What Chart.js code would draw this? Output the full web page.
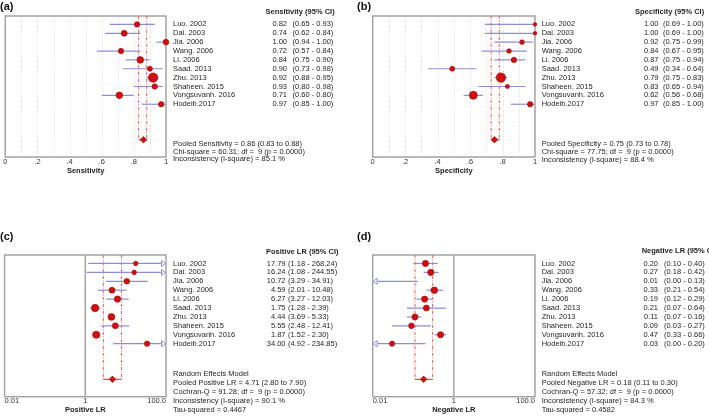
<!DOCTYPE html>
<html><head><meta charset="utf-8">
<script src="https://cdn.jsdelivr.net/npm/chart.js@4.4.1/dist/chart.umd.min.js"></script>
<style>
html,body{margin:0;padding:0;background:#fff;width:709px;height:416px;overflow:hidden;}
canvas{position:absolute;}
</style></head><body>
<canvas id="ca" style="left:0px;top:0px" width="354" height="200"></canvas>
<canvas id="cb" style="left:354px;top:0px" width="355" height="200"></canvas>
<canvas id="cc" style="left:0px;top:200px" width="354" height="216"></canvas>
<canvas id="cd" style="left:354px;top:200px" width="355" height="216"></canvas>
<script>
// ---------------- data ----------------
const studies = ['Luo. 2002','Dai. 2003','Jia. 2006','Wang. 2006','Li. 2006','Saad. 2013','Zhu. 2013','Shaheen. 2015','Vongsuvanh. 2016','Hodeib.2017'];

const sensEst = [0.82,0.74,1.00,0.72,0.84,0.90,0.92,0.93,0.71,0.97];
const sensLo  = [0.65,0.62,0.94,0.57,0.75,0.73,0.88,0.80,0.60,0.85];
const sensHi  = [0.93,0.84,1.00,0.84,0.90,0.98,0.95,0.98,0.80,1.00];
const sensPooled = [0.86,0.83,0.88];
const sensFooter = ['Pooled Sensitivity = 0.86 (0.83 to 0.88)','Chi-square = 60.31; df =  9 (p = 0.0000)','Inconsistency (I-square) = 85.1 %'];

const specEst = [1.00,1.00,0.92,0.84,0.87,0.49,0.79,0.83,0.62,0.97];
const specLo  = [0.69,0.69,0.75,0.67,0.75,0.34,0.75,0.65,0.56,0.85];
const specHi  = [1.00,1.00,0.99,0.95,0.94,0.64,0.83,0.94,0.68,1.00];
const specPooled = [0.75,0.73,0.78];
const specFooter = ['Pooled Specificity = 0.75 (0.73 to 0.78)','Chi-square = 77.75; df =  9 (p = 0.0000)','Inconsistency (I-square) = 88.4 %'];

const plrEst = [17.79,16.24,10.72,4.59,6.27,1.75,4.44,5.55,1.87,34.00];
const plrLo  = [1.18,1.08,3.29,2.01,3.27,1.28,3.69,2.48,1.52,4.92];
const plrHi  = [268.24,244.55,34.91,10.48,12.03,2.39,5.33,12.41,2.30,234.85];
const plrPooled = [4.71,2.80,7.90];
const plrFooter = ['Random Effects Model','Pooled Positive LR = 4.71 (2.80 to 7.90)','Cochran-Q = 91.28; df =  9 (p = 0.0000)','Inconsistency (I-square) = 90.1 %','Tau-squared = 0.4467'];

const nlrEst = [0.20,0.27,0.01,0.33,0.19,0.21,0.11,0.09,0.47,0.03];
const nlrLo  = [0.10,0.18,0.00,0.21,0.12,0.07,0.07,0.03,0.33,0.00];
const nlrHi  = [0.40,0.42,0.13,0.54,0.29,0.64,0.16,0.27,0.66,0.20];
const nlrPooled = [0.18,0.11,0.30];
const nlrFooter = ['Random Effects Model','Pooled Negative LR = 0.18 (0.11 to 0.30)','Cochran-Q = 57.32; df =  9 (p = 0.0000)','Inconsistency (I-square) = 84.3 %','Tau-squared = 0.4582'];

// marker sizes (study weights)
const sensR = [2.7,3.0,2.8,2.7,3.3,2.5,4.7,2.7,3.3,2.7];
const specR = [1.8,1.8,2.3,2.3,2.7,2.5,4.7,2.1,4.0,2.7];
const plrR  = [2.3,2.3,2.8,3.0,3.2,3.7,3.4,3.0,3.6,2.7];
const nlrR  = [3.1,3.1,0,3.3,3.1,3.0,3.0,2.8,3.1,2.6];

// axes ticks
const propTickVals = [0,0.1,0.2,0.3,0.4,0.5,0.6,0.7,0.8,0.9,1];
const propTickLabels = ['0','','.2','','.4','','.6','','.8','','1'];
const lrTickVals = [0.01,1,100];
const lrTickLabels = ['0.01','1','100.0'];

const POOLED_ROW = 13;
const FONT = "'Liberation Sans', Arial, Helvetica, sans-serif";

const panels = [
 {id:'ca', left:0, top:0, w:354, h:200, area:[4,166,16,157], type:'linear', min:0, max:1,
  tickVals:propTickVals, tickLabels:propTickLabels, tickAlign:'center', tickPad:0.25,
  axisTitle:'Sensitivity', est:sensEst, lo:sensLo, hi:sensHi, r:sensR, pooled:sensPooled,
  header:'Sensitivity (95% CI)', footer:sensFooter, label:'(a)',
  pos:{name:173, valR:287, ci:292.5, head:265.5, headY:11.5, foot:173, footY:[144,151.5,159], labX:0, labY:7}},
 {id:'cb', left:354, top:0, w:355, h:200, area:[372.7,535,16,157], type:'linear', min:0, max:1,
  tickVals:propTickVals, tickLabels:propTickLabels, tickAlign:'center', tickPad:0.25,
  axisTitle:'Specificity', est:specEst, lo:specLo, hi:specHi, r:specR, pooled:specPooled,
  header:'Specificity (95% CI)', footer:specFooter, label:'(b)',
  pos:{name:541.7, valR:658.5, ci:663, head:635, headY:11.5, foot:541.7, footY:[144,152,160], labX:357, labY:7}},
 {id:'cc', left:0, top:200, w:354, h:216, area:[4,166,255,396.7], type:'logarithmic', min:0.01, max:100,
  tickVals:lrTickVals, tickLabels:lrTickLabels, tickAlign:'inner', tickPad:0,
  axisTitle:'Positive LR', est:plrEst, lo:plrLo, hi:plrHi, r:plrR, pooled:plrPooled,
  header:'Positive LR (95% CI)', footer:plrFooter, label:'(c)',
  pos:{name:173, valR:285.5, ci:288, head:266, headY:251.5, foot:173, footY:[374.3,383,392,401,410], labX:0, labY:236.7}},
 {id:'cd', left:354, top:200, w:355, h:216, area:[372.7,535,255,396.7], type:'logarithmic', min:0.01, max:100,
  tickVals:lrTickVals, tickLabels:lrTickLabels, tickAlign:'inner', tickPad:0,
  axisTitle:'Negative LR', est:nlrEst, lo:nlrLo, hi:nlrHi, r:nlrR, pooled:nlrPooled,
  header:'Negative LR (95% CI)', footer:nlrFooter, label:'(d)',
  pos:{name:541.7, valR:658, ci:664, head:641.7, headY:250.5, foot:541.7, footY:[374.3,383,392,401,410], labX:357, labY:236.7}}
];

function seg(ctx,x1,y1,x2,y2){ctx.beginPath();ctx.moveTo(x1,y1);ctx.lineTo(x2,y2);ctx.stroke();}

function forestPlugin(p){
  const L = p.left, T = p.top;
  return {
    id:'forest',
    beforeDatasetsDraw(chart){
      const {ctx, chartArea:a, scales:{x,y}} = chart;
      ctx.save();
      // grid
      if (p.type === 'linear') {
        ctx.strokeStyle = '#dcdcdc'; ctx.lineWidth = 1; ctx.setLineDash([1,1.5]);
        p.tickVals.forEach(v => { if (v > p.min && v < p.max) { const px = Math.round(x.getPixelForValue(v))+0.5; seg(ctx,px,a.top,px,a.bottom); } });
      } else {
        ctx.strokeStyle = '#a3a3a3'; ctx.lineWidth = 1.5; ctx.setLineDash([]);
        const px = x.getPixelForValue(1); seg(ctx,px,a.top,px,a.bottom);
      }
      ctx.setLineDash([]);
      ctx.strokeStyle = '#a3a3a3'; ctx.lineWidth = 1.5;
      ctx.strokeRect(a.left, a.top, a.right-a.left, a.bottom-a.top);
      // pooled CI dashed lines
      const yp = y.getPixelForValue(POOLED_ROW);
      ctx.strokeStyle = '#e0605e'; ctx.lineWidth = 1; ctx.setLineDash([3,1.5,1,1.5]);
      [p.pooled[1], p.pooled[2]].forEach(v => { const px = x.getPixelForValue(v); seg(ctx,px,a.top,px,yp); });
      ctx.setLineDash([]);
      ctx.strokeStyle = '#d83030'; ctx.lineWidth = 1;
      seg(ctx, x.getPixelForValue(p.pooled[1]), yp, x.getPixelForValue(p.pooled[2]), yp);
      // study CIs
      const AL = 4.5, AH = 3;
      ctx.strokeStyle = '#8e8ed2'; ctx.lineWidth = 1.2;
      p.est.forEach((e,i) => {
        const yy = y.getPixelForValue(i);
        const lowOut = p.lo[i] < p.min, highOut = p.hi[i] > p.max;
        const x1 = lowOut ? a.left + AL : x.getPixelForValue(p.lo[i]);
        const x2 = highOut ? a.right - AL : x.getPixelForValue(p.hi[i]);
        ctx.lineWidth = 1.2; seg(ctx,x1,yy,x2,yy);
        ctx.lineWidth = 1; ctx.fillStyle = '#fff';
        if (lowOut) { ctx.beginPath(); ctx.moveTo(a.left+0.5,yy); ctx.lineTo(a.left+AL,yy-AH); ctx.lineTo(a.left+AL,yy+AH); ctx.closePath(); ctx.fill(); ctx.stroke(); }
        if (highOut) { ctx.beginPath(); ctx.moveTo(a.right-0.5,yy); ctx.lineTo(a.right-AL,yy-AH); ctx.lineTo(a.right-AL,yy+AH); ctx.closePath(); ctx.fill(); ctx.stroke(); }
      });
      ctx.restore();
    },
    afterDraw(chart){
      const {ctx, scales:{y}} = chart;
      const q = p.pos;
      ctx.save();
      ctx.fillStyle = '#262626'; ctx.textBaseline = 'middle';
      ctx.font = '7.5px ' + FONT;
      studies.forEach((s,i) => {
        const yy = y.getPixelForValue(i);
        ctx.textAlign = 'left'; ctx.fillText(s, q.name - L, yy);
        ctx.textAlign = 'right'; ctx.fillText(p.est[i].toFixed(2), q.valR - L, yy);
        ctx.textAlign = 'left'; ctx.fillText('(' + p.lo[i].toFixed(2) + ' - ' + p.hi[i].toFixed(2) + ')', q.ci - L, yy);
      });
      p.footer.forEach((t,k) => { ctx.fillText(t, q.foot - L, q.footY[k] - T); });
      ctx.font = 'bold 7.5px ' + FONT;
      ctx.fillText(p.header, q.head - L, q.headY - T);
      ctx.font = 'bold 11px ' + FONT; ctx.fillStyle = '#111';
      ctx.fillText(p.label, q.labX - L, q.labY - T);
      ctx.restore();
    }
  };
}

panels.forEach(p => {
  const [al, ar, at, ab] = p.area;
  const left = al - p.left, right = p.w - (ar - p.left), top = at - p.top;
  const axisH = 9 + 9 + 2*p.tickPad;
  const bottom = p.h - (ab - p.top) - axisH;
  new Chart(document.getElementById(p.id), {
    type: 'scatter',
    data: { datasets: [
      { data: p.est.map((v,i) => ({x:v, y:i})), pointRadius: p.r, pointHoverRadius: p.r,
        backgroundColor:'#d10f0f', borderColor:'#9c0000', borderWidth:0.6, clip:false },
      { data: [{x:p.pooled[0], y:POOLED_ROW}], pointStyle:'rectRot', pointRadius:3.3,
        backgroundColor:'#d10f0f', borderColor:'#9c0000', borderWidth:0.6, clip:false }
    ]},
    options: {
      responsive:false, animation:false, devicePixelRatio:1, events:[],
      layout:{ padding:{ left, right, top, bottom } },
      plugins:{ legend:{display:false}, tooltip:{enabled:false} },
      scales:{
        x:{ type:p.type, min:p.min, max:p.max, position:'bottom',
            grid:{display:false, drawTicks:false}, border:{display:false},
            afterBuildTicks: s => { s.ticks = p.tickVals.map(v => ({value:v})); },
            ticks:{ autoSkip:false, maxRotation:0, minRotation:0, padding:p.tickPad, align:p.tickAlign,
                    color:'#333', font:{family:FONT, size:7.5},
                    callback:(v,i) => p.tickLabels[i] },
            title:{ display:true, text:p.axisTitle, color:'#222', padding:{top:0,bottom:0},
                    font:{family:FONT, size:7.5, weight:'bold'} } },
        y:{ type:'linear', display:false, min:-0.95, max:14.95, reverse:true }
      }
    },
    plugins:[forestPlugin(p)]
  });
});
</script>
</body></html>
